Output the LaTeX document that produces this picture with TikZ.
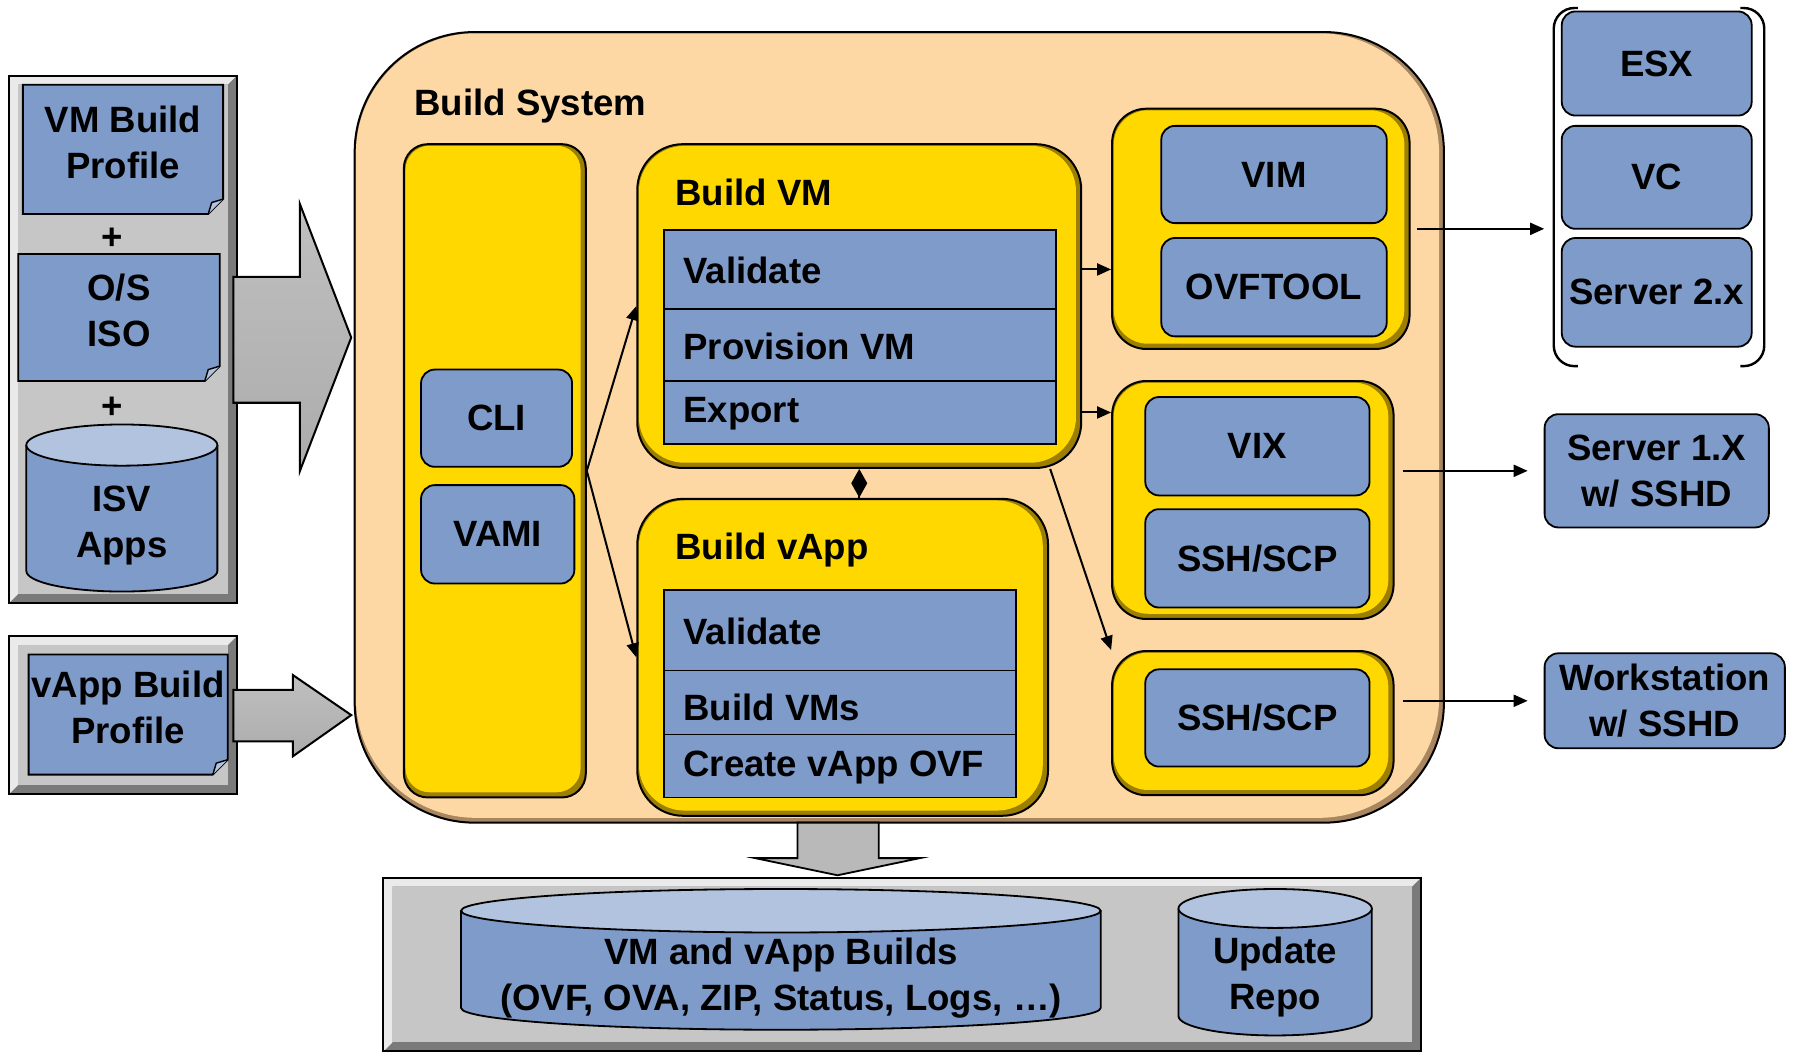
\documentclass[tikz,border=0pt]{standalone}
\usepackage{fontspec}
\setmainfont{Liberation Sans}
\usetikzlibrary{arrows.meta,fit}
\definecolor{bl}{HTML}{7F9BC9}
\definecolor{lbl}{HTML}{B1C3DF}
\definecolor{yel}{HTML}{FFD800}
\definecolor{ydark}{HTML}{9C7E00}
\definecolor{peach}{HTML}{FDD8A4}
\definecolor{pdark}{HTML}{A88660}
\definecolor{pgray}{HTML}{C6C6C6}
\definecolor{pglight}{HTML}{EAEAEA}
\definecolor{pgdark}{HTML}{7A7A7A}
\definecolor{arrgray}{HTML}{B9B9B9}

\newcommand\docbox[6]{%
  \draw[fill=bl, line width=0.9pt] (#2,#3) -- (#4,#3) -- (#4,#5-13) -- (#4-13,#5) -- (#2,#5) -- cycle;
  \draw[fill=lbl, line width=0.7pt] (#4,#5-13) -- (#4-10,#5-10) -- (#4-13,#5);
  \node[txt] (#1) at ({(#2+#4)/2},{(#3+#5)/2-6}) {#6};
}
\newcommand\cyl[8]{%
  \draw[fill=bl, line width=0.9pt] (#2,#3+#6) -- (#2,#5-#6) arc[start angle=180, end angle=0, x radius={(#4-#2)/2}, y radius=#6] -- (#4,#3+#6);
  \draw[fill=lbl, line width=0.9pt] ({(#2+#4)/2},#3+#6) ellipse[x radius={(#4-#2)/2}, y radius=#6];
  \node[txt] (#1) at ({(#2+#4)/2},#7) {#8};
}
% blue box: name, x1, y1, x2, y2, text
\newcommand\bluebox[6]{%
  \node[bbox, fit={(#2,#3) (#4,#5)}] (#1) {};
  \node[txt] (#1t) at (#1.center) {#6};
}

\begin{document}
\begin{tikzpicture}[x=0.02cm,y=-0.02cm,
  font=\fontsize{18.2pt}{22.8pt}\selectfont\bfseries,
  txt/.style={align=center, inner sep=0pt},
  bbox/.style={fill=bl, draw=black, line width=0.9pt, rounded corners=0.24cm, inner sep=0pt},
  row/.style={fill=bl, draw=black, line width=0.9pt, inner sep=0pt},
  ybox/.style={fill=ydark, draw=black, line width=1pt, rounded corners=#1, inner sep=0pt,
    path picture={\fill[yel, rounded corners=#1]
      ([xshift=0.8pt,yshift=-0.8pt]path picture bounding box.north west) rectangle
      ([xshift=-2.6pt,yshift=2.6pt]path picture bounding box.south east);}},
  pbox/.style={fill=pdark, draw=black, line width=1pt, rounded corners=2.1cm, inner sep=0pt,
    path picture={\fill[peach, rounded corners=2.1cm]
      ([xshift=0.6pt,yshift=-0.6pt]path picture bounding box.north west) rectangle
      ([xshift=-2.4pt,yshift=2.4pt]path picture bounding box.south east);}},
  gpanel/.style={fill=pgdark, draw=black, line width=1pt, inner sep=0pt,
    path picture={
      \coordinate (ppnw) at (path picture bounding box.north west);
      \coordinate (ppse) at (path picture bounding box.south east);
      \fill[pglight] (ppnw) -- (ppnw -| ppse) -- ([xshift=-4.5pt,yshift=-4.5pt]ppnw -| ppse)
        -- ([xshift=4.5pt,yshift=-4.5pt]ppnw) -- ([xshift=4.5pt,yshift=4.5pt]ppnw |- ppse)
        -- (ppnw |- ppse) -- cycle;
      \fill[pgray] ([xshift=4.5pt,yshift=-4.5pt]ppnw) rectangle ([xshift=-4.5pt,yshift=4.5pt]ppse);
    }},
  bigarrow/.style={draw=black, line width=1pt, top color=gray!50, middle color=gray!8, bottom color=gray!65},
  arr/.style={-{Triangle[length=7pt,width=6pt]}, line width=1pt},
  ghost/.style={inner sep=0pt, draw=none}
]
\useasboundingbox (0,0) rectangle (1568,921);

% ---------- left inputs ----------
\node[gpanel, fit={(8,66) (207,527)}] (p1) {};
\docbox{vmprof}{20}{74}{195}{187}{VM Build\\Profile}
\node[txt] (plus1) at (98,209) {+};
\docbox{osiso}{16}{222}{192}{333}{O/S\\ISO}
\node[txt] (plus2) at (98,356) {+};
\cyl{isv}{23}{371}{190}{517}{18}{459}{ISV\\Apps}

\node[gpanel, fit={(8,556) (207,694)}] (p2) {};
\docbox{vappprof}{25}{572}{199}{677}{vApp Build\\Profile}

% ---------- Build System ----------
\node[pbox, fit={(310,28) (1262,719)}] (bs) {};
\node[txt, anchor=west] (bstitle) at (362,93) {Build System};

\path[bigarrow] (204,242) -- (262,242) -- (262,178) -- (307,295) -- (262,412) -- (262,352) -- (204,352) -- cycle;
\path[bigarrow] (204,603) -- (256,603) -- (256,590) -- (307,625) -- (256,661) -- (256,648) -- (204,648) -- cycle;

\node[ybox=0.42cm, fit={(353,126) (512,697)}] (col) {};
\bluebox{cli}{368}{323}{500}{408}{CLI}
\bluebox{vami}{368}{424}{502}{510}{VAMI}

% Build VM
\node[ybox=0.8cm, fit={(557,126) (945,409)}] (bvm) {};
\node[txt, anchor=west] (bvmt) at (590,168) {Build VM};
\node[row, fit={(580,201) (923,270)}] (r1) {};
\node[row, fit={(580,270) (923,333)}] (r2) {};
\node[row, fit={(580,333) (923,388)}] (r3) {};
\node[txt, anchor=west] (r1t) at (597,236) {Validate};
\node[txt, anchor=west] (r2t) at (597,303) {Provision VM};
\node[txt, anchor=west] (r3t) at (597,362) {Export};

% Build vApp
\node[ybox=0.8cm, fit={(557,436) (916,713)}] (bva) {};
\node[txt, anchor=west] (bvat) at (590,481) {Build vApp};
\node[row, fit={(580,516) (888,586)}] (s1r) {};
\node[row, fit={(580,586) (888,642)}] (s2r) {};
\node[row, fit={(580,642) (888,697)}] (s3r) {};
\node[txt, anchor=west] (s1t) at (597,552) {Validate};
\node[txt, anchor=west] (s2t) at (597,618) {Build VMs};
\node[txt, anchor=west] (s3t) at (597,671) {Create vApp OVF};

% tool groups
\node[ybox=0.6cm, fit={(972,95) (1232,305)}] (g1) {};
\bluebox{vim}{1015}{110}{1212}{195}{VIM}
\bluebox{ovf}{1015}{208}{1212}{294}{OVFTOOL}

\node[ybox=0.6cm, fit={(972,333) (1218,541)}] (g2) {};
\bluebox{vix}{1001}{347}{1197}{433}{VIX}
\bluebox{sshA}{1001}{445}{1197}{531}{SSH/SCP}

\node[ybox=0.6cm, fit={(972,569) (1218,695)}] (g3) {};
\bluebox{sshB}{1001}{585}{1197}{670}{SSH/SCP}

% ---------- targets ----------
\node[ghost, fit={(1358,7) (1542,320)}] (hg) {};
\draw[line width=1.2pt, rounded corners=0.36cm] (1379,7) -- (1358,7) -- (1358,320) -- (1379,320);
\draw[line width=1.2pt, rounded corners=0.36cm] (1521,7) -- (1542,7) -- (1542,320) -- (1521,320);
\bluebox{esx}{1365}{10}{1531}{101}{ESX}
\bluebox{vc}{1365}{110}{1531}{200}{VC}
\bluebox{srvB}{1365}{208}{1531}{303}{Server 2.x}
\bluebox{srvA}{1350}{362}{1546}{461}{Server 1.X\\w/ SSHD}
\bluebox{ws}{1350}{571}{1560}{654}{Workstation\\w/ SSHD}

% ---------- output ----------
\draw[fill=arrgray, line width=0.9pt] (697,719) -- (768,719) -- (768,750) -- (804,750) -- (732,765) -- (660,750) -- (697,750) -- cycle;
\node[gpanel, fit={(335,767) (1242,919)}] (p3) {};
\cyl{builds}{403}{777}{962}{900}{19}{855}{VM and vApp Builds\\(OVF, OVA, ZIP, Status, Logs, …)}
\cyl{repo}{1030}{777}{1199}{905}{17}{854}{Update\\Repo}

% ---------- connectors ----------
\draw[arr] (col.east) -- (bvm.west);
\draw[arr] (col.east) -- (bva.west);
\draw[line width=1pt, {Diamond[length=0.5cm,width=0.28cm]}-] (bvm.south) -- (bvm.south |- bva.north);
\draw[arr] (r1.east -| bvm.east) -- (r1.east -| g1.west);
\draw[arr] (r3.east -| bvm.east) -- (r3.east -| g2.west);
\draw[arr] ([xshift=-0.56cm]bvm.south east) -- (g3.north west);
\draw[arr, shorten <=0.12cm, shorten >=0.16cm] (g1.east) -- (g1.east -| hg.west);
\draw[arr, shorten <=0.14cm, shorten >=0.28cm] (g2.east |- srvA.west) -- (srvA.west);
\draw[arr, shorten <=0.14cm, shorten >=0.28cm] (g3.east |- ws.west) -- (ws.west);
\end{tikzpicture}
\end{document}
